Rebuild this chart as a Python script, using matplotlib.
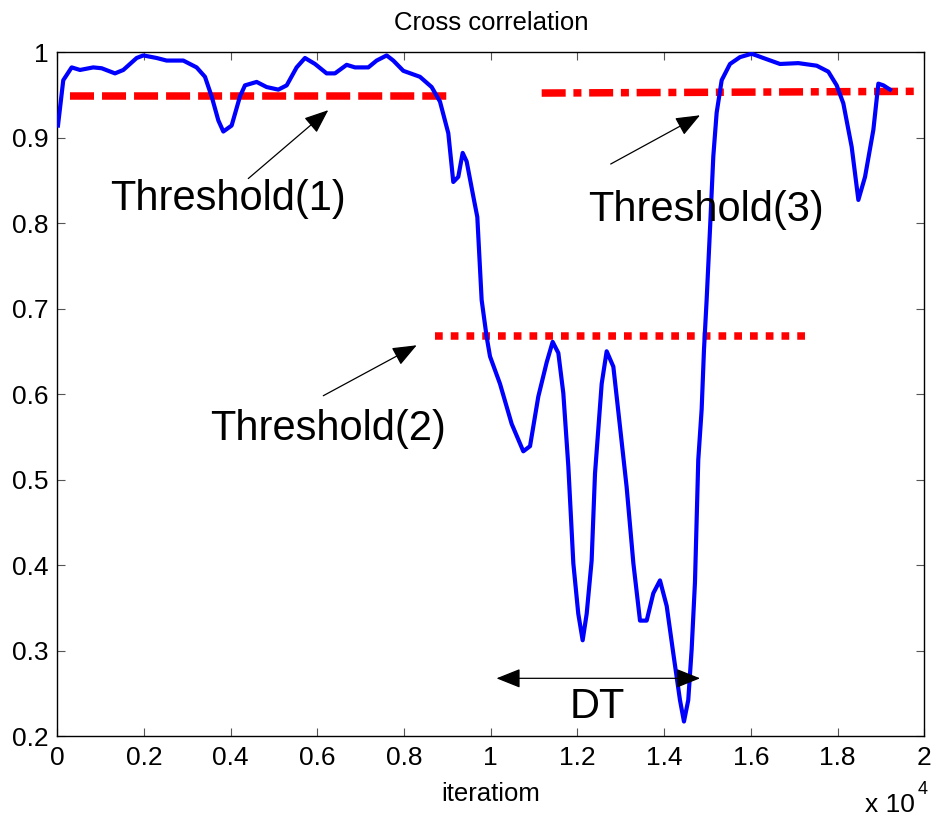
import numpy as np
import matplotlib
matplotlib.use("Agg")
import matplotlib.pyplot as plt

plt.rcParams['font.family'] = ['Liberation Sans', 'DejaVu Sans']

# cross correlation curve (iteration, value)
iters = [16, 138, 332, 524, 830, 1023, 1331, 1523, 1831, 1984, 2292, 2522, 2907,
         3214, 3407, 3561, 3715, 3830, 4022, 4214, 4330, 4599, 4830, 5098, 5292,
         5521, 5714, 5945, 6213, 6405, 6675, 6867, 7175, 7367, 7598, 7751, 7982,
         8366, 8636, 8828, 9020, 9135, 9250, 9351, 9443, 9597, 9689, 9789, 9904,
         9982, 10212, 10482, 10750, 10905, 11096, 11289, 11427, 11558, 11673,
         11788, 11904, 12018, 12119, 12212, 12326, 12404, 12558, 12673, 12827,
         12980, 13134, 13289, 13442, 13596, 13749, 13903, 14058, 14209, 14364,
         14456, 14555, 14633, 14710, 14786, 14864, 14918, 14979, 15056, 15133,
         15210, 15326, 15518, 15748, 16018, 16286, 16671, 17094, 17518, 17786,
         17979, 18132, 18325, 18479, 18633, 18825, 18940, 19056, 19209]
corr = [0.914, 0.967, 0.982, 0.979, 0.982, 0.981, 0.975, 0.979, 0.993, 0.996,
        0.993, 0.990, 0.990, 0.982, 0.971, 0.948, 0.920, 0.907, 0.914, 0.948,
        0.961, 0.965, 0.959, 0.956, 0.961, 0.982, 0.993, 0.986, 0.975, 0.975,
        0.985, 0.982, 0.982, 0.990, 0.996, 0.990, 0.978, 0.971, 0.959, 0.942,
        0.905, 0.848, 0.854, 0.882, 0.872, 0.831, 0.807, 0.710, 0.667, 0.644,
        0.612, 0.565, 0.533, 0.539, 0.597, 0.637, 0.661, 0.648, 0.601, 0.516,
        0.402, 0.343, 0.312, 0.343, 0.405, 0.507, 0.612, 0.650, 0.632, 0.562,
        0.491, 0.402, 0.335, 0.335, 0.367, 0.382, 0.352, 0.297, 0.242, 0.217,
        0.242, 0.301, 0.380, 0.523, 0.582, 0.652, 0.710, 0.792, 0.878, 0.929,
        0.967, 0.986, 0.994, 0.998, 0.993, 0.986, 0.987, 0.984, 0.977, 0.961,
        0.940, 0.889, 0.827, 0.854, 0.909, 0.963, 0.961, 0.956]

# threshold segments (x start/end, y start/end)
thr1 = ([293, 8983], [0.949, 0.949])
thr2 = ([8713, 17363], [0.668, 0.668])
thr3 = ([11174, 19854], [0.952, 0.954])

x_ticks = [0, 2000, 4000, 6000, 8000, 10000, 12000, 14000, 16000, 18000, 20000]
x_labels = ['0', '0.2', '0.4', '0.6', '0.8', '1', '1.2', '1.4', '1.6', '1.8', '2']
y_ticks = [0.2, 0.3, 0.4, 0.5, 0.6, 0.7, 0.8, 0.9, 1.0]
y_labels = ['0.2', '0.3', '0.4', '0.5', '0.6', '0.7', '0.8', '0.9', '1']

fig = plt.figure(figsize=(9.36, 8.19), dpi=100)
ax = fig.add_axes([0.0612, 0.1013, 0.9263, 0.8352])

ax.plot(iters, corr, color='blue', lw=3.0, zorder=3)

red_lw = 5.4
ax.plot(thr1[0], thr1[1], color='red', lw=red_lw, dashes=(3.2, 1.07), zorder=2)
ax.plot(thr2[0], thr2[1], color='red', lw=red_lw, dashes=(1.03, 1.07), zorder=2)
ax.plot(thr3[0], thr3[1], color='red', lw=red_lw, dashes=(3.2, 1.03, 1.07, 1.03), zorder=2)

arr = dict(arrowstyle='-|>,head_length=0.75,head_width=0.3', color='black',
           lw=0.9, mutation_scale=20, shrinkA=0, shrinkB=0)
ax.annotate('', xy=(6251, 0.932), xytext=(4406, 0.852), arrowprops=arr)
ax.annotate('', xy=(8291, 0.657), xytext=(6136, 0.598), arrowprops=arr)
ax.annotate('', xy=(14826, 0.926), xytext=(12766, 0.869), arrowprops=arr)
arr2 = dict(arr, arrowstyle='<|-|>,head_length=0.75,head_width=0.3')
ax.annotate('', xy=(14829, 0.2675), xytext=(10131, 0.2675), arrowprops=arr2)

ax.text(3938, 0.828, 'Threshold(1)', fontsize=30, ha='center', va='center')
ax.text(6246, 0.559, 'Threshold(2)', fontsize=30, ha='center', va='center')
ax.text(14965, 0.815, 'Threshold(3)', fontsize=30, ha='center', va='center')
ax.text(12450, 0.234, 'DT', fontsize=30, ha='center', va='center')

ax.set_xlim(0, 20000)
ax.set_ylim(0.2, 1.0)
ax.set_xticks(x_ticks)
ax.set_xticklabels(x_labels)
ax.set_yticks(y_ticks)
ax.set_yticklabels(y_labels)
ax.tick_params(direction='in', length=6, width=0.8, color='#555555',
               labelsize=19, top=True, right=True)
ax.tick_params(axis='x', pad=7)
ax.tick_params(axis='y', pad=6)
for s in ax.spines.values():
    s.set_linewidth(1.0)

ax.set_title('Cross correlation', fontsize=18.5, pad=16)
ax.set_xlabel('iteratiom', fontsize=18.5, labelpad=9)
fig.text(0.924, 0.009, 'x 10', fontsize=19, ha='left', va='baseline')
fig.text(0.980, 0.030, '4', fontsize=13, ha='left', va='baseline')

fig.savefig('out.png', dpi=100)
